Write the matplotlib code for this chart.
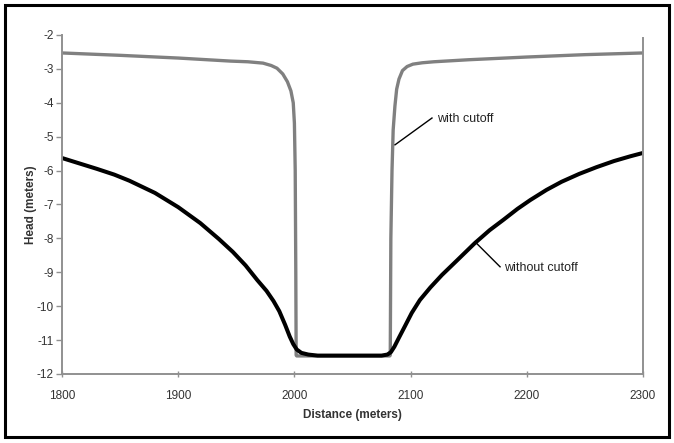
import matplotlib.pyplot as plt
from matplotlib.patches import Rectangle

plt.rcParams['font.family'] = ['Liberation Sans', 'DejaVu Sans']
plt.rcParams['axes.unicode_minus'] = False

# head along the profile
dist_without = [1800, 1815, 1830, 1845, 1858, 1880, 1900, 1919, 1935, 1947, 1958, 1968, 1976,
                1982, 1987, 1992, 1996, 1999, 2002, 2006, 2012, 2020, 2050, 2075, 2080, 2083,
                2086, 2090, 2095, 2101, 2108, 2117, 2127, 2140, 2155, 2168, 2180, 2192, 2203,
                2217, 2230, 2245, 2260, 2275, 2289, 2300]
head_without = [-5.63, -5.79, -5.95, -6.12, -6.3, -6.66, -7.08, -7.55, -8.02, -8.4, -8.8, -9.23,
                -9.55, -9.85, -10.15, -10.55, -10.9, -11.12, -11.28, -11.38, -11.43, -11.46,
                -11.46, -11.46, -11.43, -11.36, -11.2, -10.93, -10.6, -10.2, -9.82, -9.45,
                -9.08, -8.65, -8.15, -7.76, -7.45, -7.13, -6.87, -6.57, -6.33, -6.1, -5.9,
                -5.72, -5.58, -5.48]

dist_with = [1800, 1850, 1900, 1945, 1960, 1973, 1980, 1985, 1990, 1994, 1997, 1999, 2000,
             2000.7, 2001.2, 2001.5, 2002, 2082, 2082.5, 2083, 2084, 2085, 2086.5, 2088, 2090,
             2093, 2097, 2102, 2110, 2120, 2150, 2200, 2250, 2300]
head_with = [-2.53, -2.6, -2.68, -2.77, -2.79, -2.83, -2.9, -2.98, -3.15, -3.38, -3.65, -4.0,
             -4.6, -6.0, -9.0, -11.45, -11.47, -11.47, -11.45, -8.0, -6.0, -4.8, -4.1, -3.6,
             -3.3, -3.05, -2.93, -2.86, -2.82, -2.79, -2.73, -2.65, -2.58, -2.53]

fig = plt.figure(figsize=(6.74, 4.43), dpi=100)
ax = fig.add_axes([0.092, 0.156, 0.862, 0.765])

ax.plot(dist_with, head_with, color='#808080', lw=2.4, solid_joinstyle='round')
ax.plot(dist_without, head_without, color='black', lw=2.9, solid_joinstyle='round')

ax.set_xlim(1800, 2300)
ax.set_ylim(-12, -2)
ax.set_xticks(range(1800, 2301, 100))
ax.set_yticks(range(-12, -1))

for side in ['left', 'bottom', 'right']:
    ax.spines[side].set_color('#909090')
    ax.spines[side].set_linewidth(1.4)
ax.spines['top'].set_visible(False)
ax.spines['right'].set_bounds(-12, -2.1)

ax.tick_params(axis='y', direction='out', length=4, width=1, color='#909090',
               labelsize=8.5, labelcolor='#333333', pad=2)
ax.tick_params(axis='x', direction='inout', length=5, width=1, color='#909090',
               labelsize=8.5, labelcolor='#333333', pad=9)

ax.set_xlabel('Distance (meters)', fontsize=8.5, fontweight='bold', color='#333333', labelpad=5)
ax.set_ylabel('Head (meters)', fontsize=8.5, fontweight='bold', color='#333333', labelpad=0)

# leader-line labels
ax.plot([2086.6, 2118.4], [-5.24, -4.45], color='black', lw=1)
ax.text(2122.5, -4.48, 'with cutoff', fontsize=9, color='#222222', va='center', ha='left')
ax.plot([2155.4, 2177], [-8.1, -8.84], color='black', lw=1)
ax.text(2180.5, -8.87, 'without cutoff', fontsize=9, color='#222222', va='center', ha='left')

# outer frame
fig.patches.append(Rectangle((0.007, 0.013), 0.985, 0.976, transform=fig.transFigure,
                             fill=False, edgecolor='black', lw=2.2))

plt.savefig('out.png', dpi=100)
